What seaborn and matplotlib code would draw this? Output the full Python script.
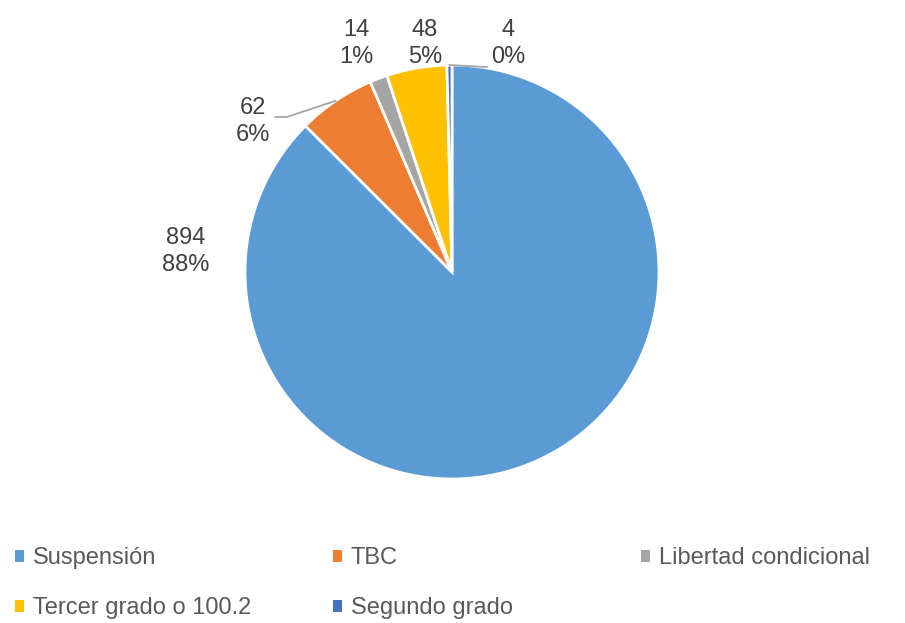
import numpy as np
import matplotlib
matplotlib.use('Agg')
import matplotlib.pyplot as plt
import seaborn as sns
from matplotlib.patches import Patch

# Data
categories = ['Suspensión', 'TBC', 'Libertad condicional', 'Tercer grado o 100.2', 'Segundo grado']
values = [894, 62, 14, 48, 4]
percent_labels = ['88%', '6%', '1%', '5%', '0%']
colors = ['#5B9BD5', '#ED7D31', '#A5A5A5', '#FFC000', '#4472C4']

# Label placement (axis units, radius = 1)
label_pos = [(-1.285, 0.097), (-0.961, 0.725), (-0.464, 1.106), (-0.130, 1.106), (0.271, 1.106)]

sns.set_theme(style='white')
plt.rcParams['font.family'] = ['Liberation Sans', 'DejaVu Sans']

fig = plt.figure(figsize=(9.05, 6.23), dpi=100)
fig.patch.set_facecolor('white')

# Square axes so the pie has radius 207 px around (452, 272)
W, H = 905, 623
cx, cy, r = 452, 272, 207
ax = fig.add_axes([(cx - r) / W, (H - cy - r) / H, 2 * r / W, 2 * r / H])

wedges, _ = ax.pie(values, colors=colors, startangle=90, counterclock=False,
                   radius=1, wedgeprops=dict(edgecolor='white', linewidth=2))
ax.set_xlim(-1, 1)
ax.set_ylim(-1, 1)
ax.set_aspect('equal')
ax.axis('off')

# Data labels
for i, (v, p) in enumerate(zip(values, percent_labels)):
    x, y = label_pos[i]
    ax.text(x, y, f'{v}\n{p}', ha='center', va='center', fontsize=17,
            color='#404040', linespacing=1.3, clip_on=False)

# Leader lines for the small slices (TBC and Segundo grado)
line_color = '#A6A6A6'
for i, elbow in [(1, [(-0.855, 0.749), (-0.797, 0.749)]), (4, [(0.169, 0.990)])]:
    w = wedges[i]
    mid = np.deg2rad((w.theta1 + w.theta2) / 2)
    edge = (np.cos(mid), np.sin(mid))
    pts = elbow + [edge] if i == 1 else [edge] + elbow
    xs, ys = zip(*pts)
    ax.plot(xs, ys, color=line_color, linewidth=1.3, clip_on=False)

# Legend: fixed-width columns like Excel, 3 entries per row
col_items = [[0, 3], [1, 4], [2]]
col_x = [15, 333, 641]
for items, x0 in zip(col_items, col_x):
    handles = [Patch(facecolor=colors[k], edgecolor='none') for k in items]
    labels = [categories[k] for k in items]
    leg = fig.legend(handles, labels, ncol=1, loc='upper left',
                     bbox_to_anchor=(x0 / W, 0.122), frameon=False, fontsize=17,
                     handlelength=0.4, handleheight=0.4, handletextpad=0.35,
                     labelspacing=1.2, borderaxespad=0, borderpad=0)
    for t in leg.get_texts():
        t.set_color('#595959')

plt.savefig('out.png', dpi=100, facecolor='white')
plt.close()
